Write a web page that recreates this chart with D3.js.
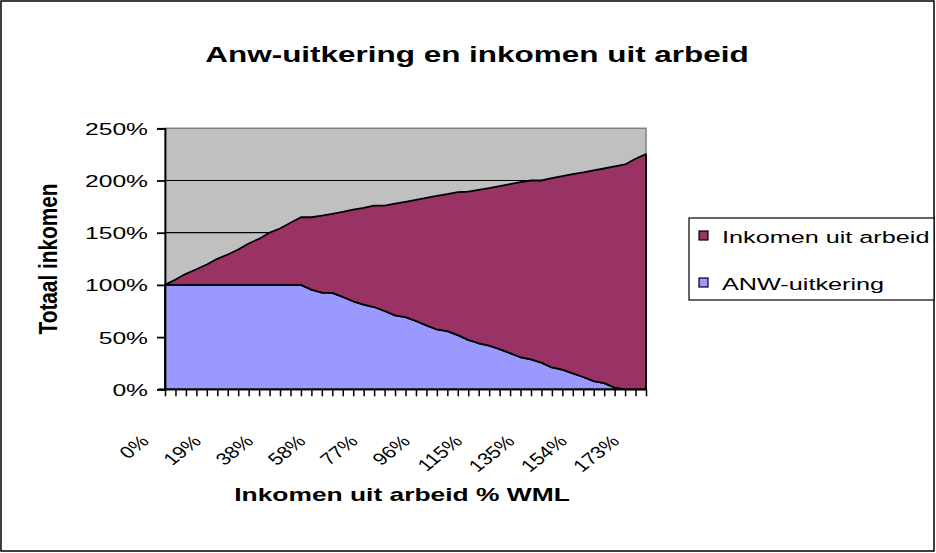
<!DOCTYPE html>
<html lang="nl">
<head>
<meta charset="utf-8">
<title>Anw-uitkering en inkomen uit arbeid</title>
<script src="https://cdnjs.cloudflare.com/ajax/libs/d3/7.8.5/d3.min.js"></script>
<style>
  body { margin: 0; background: #fff; }
  svg { display: block; font-family: "Liberation Sans", Arial, sans-serif; }
</style>
</head>
<body>
<svg id="chart" width="936" height="553"></svg>
<script>
// inkomen uit arbeid als % WML (categorie-as)
var categories = [0, 4, 8, 12, 15, 19, 23, 27, 31, 35, 38, 42, 46, 50, 54, 58, 62, 65, 69, 73,
  77, 81, 85, 88, 92, 96, 100, 104, 108, 112, 115, 119, 123, 127, 131, 135, 138, 142, 146, 150,
  154, 158, 162, 165, 169, 173, 177];
var xLabels = ["0%", "19%", "38%", "58%", "77%", "96%", "115%", "135%", "154%", "173%"];
var yTicks = [0, 50, 100, 150, 200, 250];

// ANW-uitkering (% WML)
var anw = [100, 100, 100, 100, 100, 100, 100, 100, 100, 100, 100, 100, 100, 100, 95.5, 92.6, 92.3, 88.5, 84.3, 81.1,
  78.8, 75, 70.8, 69.2, 65.4, 61.2, 57.3, 55.8, 51.9, 47.4, 44.1, 41.8, 38.5, 34.6, 30.7, 28.7, 25.5, 20.9, 18.9, 15.3,
  11.8, 7.8, 5.9, 1.6, 0, 0, 0];
// Inkomen uit arbeid (netto, % WML)
var arbeid = [0, 5.1, 10.6, 15, 19.5, 25, 29.1, 33.9, 39.7, 44.2, 50, 54, 59.5, 64.8, 69.3, 73.7, 75.8, 81.5, 87.9, 92.6,
  97.1, 100.9, 107, 110.4, 116.1, 122.1, 127.9, 131.2, 137, 142, 146.9, 151, 156.2, 162, 167.7, 171.3, 174.5, 181.3, 185.2, 190.8,
  195.9, 201.8, 205.6, 211.9, 215.4, 220.8, 225.3];

var seriesNames = { anw: "ANW-uitkering", arbeid: "Inkomen uit arbeid" };
var colors = { anw: "#9999ff", arbeid: "#993366" };

var rows = categories.map(function(c, i) {
  return { cat: c, anw: anw[i], arbeid: arbeid[i] };
});

var svg = d3.select("#chart");
var SX = 1.45; // picture is stretched horizontally

// chart border
svg.append("rect").attr("x", 1).attr("y", 1).attr("width", 933).attr("height", 550)
  .attr("fill", "#fff").attr("stroke", "#000").attr("stroke-width", 1.5);

var x = d3.scalePoint().domain(categories).range([165, 646]);
var y = d3.scaleLinear().domain([0, 250]).range([389.3, 128.3]);

// plot area
svg.append("rect").attr("x", 165).attr("y", y(250)).attr("width", 646 - 165).attr("height", y(0) - y(250))
  .attr("fill", "#c0c0c0").attr("stroke", "#808080").attr("stroke-width", 1.5);

// gridlines
svg.selectAll("line.grid").data(yTicks.filter(function(d) { return d > 0 && d < 250; }))
  .enter().append("line").attr("class", "grid")
  .attr("x1", 165).attr("x2", 646).attr("y1", function(d) { return y(d); }).attr("y2", function(d) { return y(d); })
  .attr("stroke", "#000").attr("stroke-width", 1.2);

var stack = d3.stack().keys(["anw", "arbeid"]);
var layers = stack(rows);

var area = d3.area()
  .x(function(d) { return x(d.data.cat); })
  .y0(function(d) { return y(d[0]); })
  .y1(function(d) { return y(d[1]); });

svg.selectAll("path.layer").data(layers).enter().append("path")
  .attr("class", "layer")
  .attr("d", area)
  .attr("fill", function(d) { return colors[d.key]; })
  .attr("stroke", "#000").attr("stroke-width", 1.8).attr("stroke-linejoin", "round");

// axes
var yAxis = d3.axisLeft(y).tickValues(yTicks).tickSize(8).tickFormat(function(d) { return d + "%"; });
var gy = svg.append("g").attr("transform", "translate(165,0)").call(yAxis);
gy.select(".domain").attr("stroke-width", 1.8);
gy.selectAll(".tick line").attr("stroke-width", 1.8);
gy.selectAll(".tick text").remove();
gy.selectAll(".tick").append("text")
  .attr("transform", "translate(-17,6) scale(" + SX + ",1)")
  .attr("text-anchor", "end").attr("font-size", 17).attr("fill", "#000")
  .text(function(d) { return d + "%"; });

var xAxis = d3.axisBottom(x).tickSize(7).tickSizeOuter(0).tickFormat("");
var gx = svg.append("g").attr("transform", "translate(0," + y(0) + ")").call(xAxis);
gx.select(".domain").attr("stroke-width", 1.8).attr("d", "M158,0H646");
gx.selectAll(".tick line").attr("stroke-width", 1.5);

svg.selectAll("text.xlab").data(categories.filter(function(d, i) { return i % 5 === 0; }))
  .enter().append("text").attr("class", "xlab")
  .attr("transform", function(d) {
    return "translate(" + (x(d) - 15) + "," + (y(0) + 53) + ") scale(1.25,1) rotate(-45)";
  })
  .attr("text-anchor", "end").attr("font-size", 17)
  .text(function(d, i) { return xLabels[i]; });

// titles
svg.append("text").attr("transform", "translate(477,62) scale(" + SX + ",1)")
  .attr("text-anchor", "middle").attr("font-size", 21.7).attr("font-weight", "bold")
  .text("Anw-uitkering en inkomen uit arbeid");

svg.append("text").attr("transform", "translate(402,501) scale(" + SX + ",1)")
  .attr("text-anchor", "middle").attr("font-size", 18.2).attr("font-weight", "bold")
  .text("Inkomen uit arbeid % WML");

svg.append("text").attr("transform", "translate(57,259) scale(1.2,1) rotate(-90)")
  .attr("text-anchor", "middle").attr("font-size", 20.8).attr("font-weight", "bold")
  .text("Totaal inkomen");

// legend
var lg = svg.append("g").attr("transform", "translate(689,218)");
lg.append("rect").attr("width", 245).attr("height", 82).attr("fill", "#fff").attr("stroke", "#000").attr("stroke-width", 1.2);
var items = lg.selectAll("g.item").data(["arbeid", "anw"]).enter().append("g")
  .attr("class", "item").attr("transform", function(d, i) { return "translate(10," + (13 + i * 47) + ")"; });
items.append("rect").attr("width", 9).attr("height", 9)
  .attr("fill", function(d) { return colors[d]; }).attr("stroke", "#000").attr("stroke-width", 1.2);
items.append("text").attr("transform", "translate(23,12) scale(" + SX + ",1)")
  .attr("font-size", 17.4).text(function(d) { return seriesNames[d]; });
</script>
</body>
</html>
